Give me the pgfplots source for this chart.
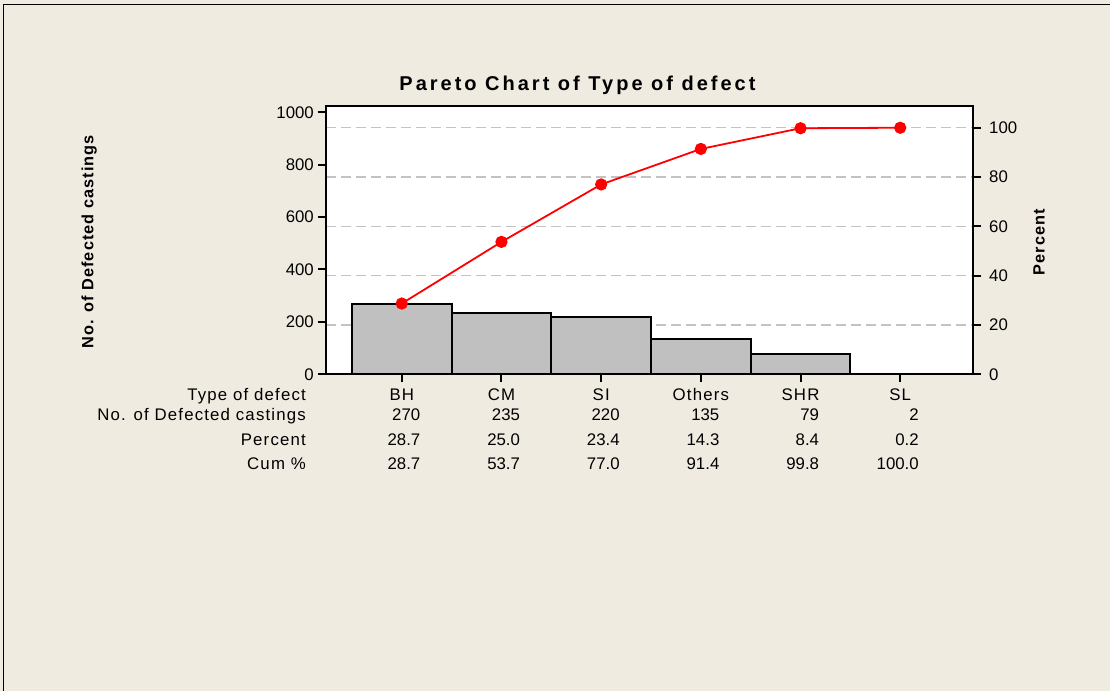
\documentclass[border=0pt]{standalone}
\usepackage{pgfplots}
\pgfplotsset{compat=1.18}
\usepackage{pgfplotstable}
\usepackage{fontspec}
\setmainfont{Liberation Sans}
\newfontfamily\lsfont{Liberation Sans}[LetterSpace=7]
\newfontfamily\labfont{Liberation Sans}[LetterSpace=6.5]
\newfontfamily\titlefont{Liberation Sans}[LetterSpace=15]
\definecolor{bg}{RGB}{240,235,225}
\definecolor{bargray}{RGB}{192,192,192}
\definecolor{gridgray}{RGB}{195,195,195}
\definecolor{cumred}{RGB}{255,0,0}

\pgfplotstableread{
x cat count pct cum
0 BH 270 28.7 28.7
1 CM 235 25.0 53.7
2 SI 220 23.4 77.0
3 Others 135 14.3 91.4
4 SHR 79 8.4 99.8
5 SL 2 0.2 100.0
}\defects

\newcommand{\tabfont}{\fontsize{16.8bp}{20.3bp}\selectfont}
\newcommand{\col}[4]{\begin{tabular}[t]{@{}c@{}}{\lsfont #1}\\\makebox[37bp][r]{#2}\\[4.7bp]\makebox[37bp][r]{#3}\\[3.7bp]\makebox[37bp][r]{#4}\end{tabular}}

\begin{document}
\begin{tikzpicture}
\useasboundingbox (0,0) rectangle (1110bp,691bp);
\fill[bg] (0,0) rectangle (1110bp,691bp);
\draw[line width=1.6bp] (3.5bp,0) -- (3.5bp,686.5bp) -- (1110bp,686.5bp);

% right (percent) axis: background, grid, right ticks
\begin{axis}[
  at={(326bp,316.7bp)}, anchor=south west,
  scale only axis, width=647bp, height=268.3bp,
  xmin=-0.76, xmax=5.73, ymin=0, ymax=108.82,
  axis background/.style={fill=white},
  axis line style={line width=2bp},
  every tick/.style={black, line width=2bp},
  major tick length=8bp, tick align=outside,
  xtick=\empty,
  ytick={0,20,...,100}, ytick pos=right,
  ymajorgrids,
  major grid style={gridgray, line width=1.2bp, dash pattern=on 10bp off 5bp},
  /pgf/number format/assume math mode=true,
  /pgf/number format/1000 sep={},
  yticklabel style={font=\tabfont, inner sep=0pt, xshift=8bp},
  ylabel={Percent},
  every axis y label/.style={at={(rel axis cs:1.1105,0.4924)}, anchor=base, rotate=90, inner sep=0pt, font=\fontsize{16.3bp}{19bp}\selectfont\labfont\bfseries},
]
\end{axis}

% left (count) axis: bars and cumulative line
\begin{axis}[
  at={(326bp,316.7bp)}, anchor=south west,
  scale only axis, width=647bp, height=268.3bp,
  xmin=-0.76, xmax=5.73, ymin=0, ymax=1024,
  clip=false,
  axis line style={line width=2bp},
  every tick/.style={black, line width=2bp},
  major tick length=8bp, tick align=outside,
  xtick={0,...,5}, xtick pos=left,
  ytick={0,200,...,1000}, ytick pos=left,
  /pgf/number format/assume math mode=true,
  /pgf/number format/1000 sep={},
  yticklabel style={font=\tabfont, inner sep=0pt, xshift=-4bp},
  xticklabels={\col{BH}{270}{28.7}{28.7}, \col{CM}{235}{25.0}{53.7}, \col{SI}{220}{23.4}{77.0}, \col{Others}{135}{14.3}{91.4}, \col{SHR}{79}{8.4}{99.8}, \col{SL}{2}{0.2}{100.0}},
  xticklabel style={font=\tabfont, anchor=base, inner sep=0pt, yshift=-18.4bp},
  ylabel={No. of Defected castings},
  every axis y label/.style={at={(rel axis cs:-0.3597,0.4942)}, anchor=base, rotate=90, inner sep=0pt, font=\fontsize{16.3bp}{19bp}\selectfont\labfont\bfseries},
  title={Pareto Chart of Type of defect},
  every axis title/.style={at={(rel axis cs:0.3887,1.0596)}, anchor=base, inner sep=0pt, font=\fontsize{20bp}{24bp}\selectfont\titlefont\bfseries},
]
\addplot[ybar, bar width=1, bar shift=0, fill=bargray, draw=black, line width=2bp] table[x=x, y=count] {\defects};
\addplot[cumred, line width=1.8bp, mark=*, mark size=5.2bp, mark options={fill=cumred, draw=cumred, solid}] table[x=x, y expr=\thisrow{cum}*9.41] {\defects};
\node[anchor=base east, inner sep=0pt, font=\tabfont] at (rel axis cs:0,0) [xshift=-20bp, yshift=-26.4bp]
  {\begin{tabular}[t]{@{}r@{}}{\lsfont Type of defect}\\{\lsfont No. of Defected castings}\\[4.7bp]{\lsfont Percent}\\[3.7bp]{\lsfont Cum \%}\end{tabular}};
\end{axis}
\end{tikzpicture}
\end{document}
